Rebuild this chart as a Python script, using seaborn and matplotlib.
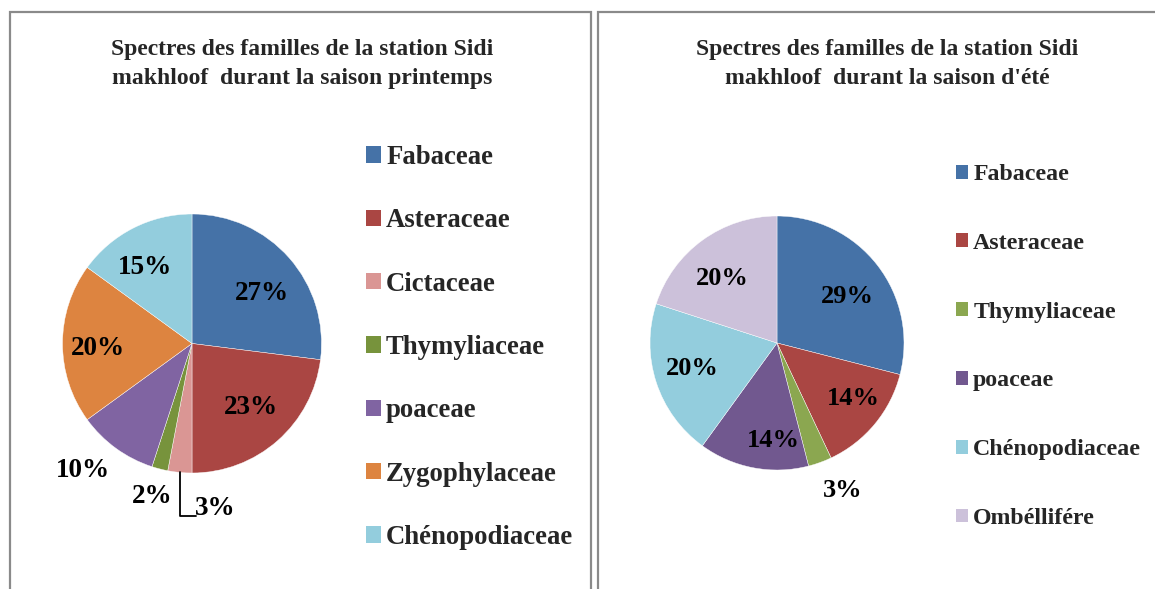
import matplotlib
matplotlib.use("Agg")
import matplotlib.pyplot as plt
import seaborn as sns
import numpy as np
from matplotlib.patches import Rectangle

# ---- data ----
spring_families = ["Fabaceae", "Asteraceae", "Cictaceae", "Thymyliaceae",
                   "poaceae", "Zygophylaceae", "Chénopodiaceae"]
spring_values = [27, 23, 3, 2, 10, 20, 15]
summer_families = ["Fabaceae", "Asteraceae", "Thymyliaceae", "poaceae",
                   "Chénopodiaceae", "Ombéllifére"]
summer_values = [29, 14, 3, 14, 20, 20]
title_spring = "Spectres des familles de la station Sidi\nmakhloof  durant la saison printemps"
title_summer = "Spectres des familles de la station Sidi\nmakhloof  durant la saison d'été"

# ---- style ----
spring_colors = ["#4572A7", "#AA4643", "#DA9694", "#77933C", "#8064A2", "#DD8440", "#93CDDD"]
summer_colors = ["#4572A7", "#AA4643", "#8BA750", "#71588F", "#93CDDD", "#CCC1DA"]
spring_lab_r = [0.66, 0.675, 1.29, 1.22, 1.29, 0.73, 0.69]
spring_lab_da = [-5.8, 1.1, 13.3, -0.2, -4.7, 3.0, 4.6]
summer_lab_r = [0.66, 0.74, 1.27, 0.77, 0.70, 0.67]
summer_lab_da = [-4.5, 3.7, 4.1, 8.5, -1.0, 4.2]

sns.set_theme(style="white")
plt.rcParams['font.family'] = ['Liberation Serif', 'DejaVu Serif']
plt.rcParams['font.weight'] = 'bold'

W, H = 1155, 589
fig = plt.figure(figsize=(W / 100, H / 100), dpi=100)
fig.patch.set_facecolor("white")

def fx(x):
    return x / W

def fy(y):
    return 1 - y / H

# panel borders
for (x0, x1) in [(10, 591), (598, 1175)]:
    fig.patches.append(Rectangle((fx(x0), fy(620)), fx(x1 - x0), (620 - 12) / H,
                                 transform=fig.transFigure, fill=False,
                                 edgecolor="#8a8a8a", linewidth=1.6, zorder=0))


def draw_pie(cx, cy, r, values, labels, colors, lab_r, lab_da, lab_fs,
             title, tcx, leg_x, leg_cy, leg_fs, leg_spacing, leg_hl, leader=None):
    ax = fig.add_axes([fx(cx - r), fy(cy + r), 2 * r / W, 2 * r / H])
    wedges, _ = ax.pie(values, colors=colors, startangle=90, counterclock=False,
                       radius=1, wedgeprops=dict(edgecolor="white", linewidth=0.3))
    ax.set_xlim(-1, 1)
    ax.set_ylim(-1, 1)
    ax.set_aspect("auto")
    ax.axis("off")
    for i, (w, v) in enumerate(zip(wedges, values)):
        mid = (w.theta1 + w.theta2) / 2 + lab_da[i]
        lx = lab_r[i] * np.cos(np.radians(mid))
        ly = lab_r[i] * np.sin(np.radians(mid))
        ax.text(lx, ly, f"{v}%", ha="center", va="center", fontsize=lab_fs,
                fontweight="bold", color="black", clip_on=False)
        if leader is not None and i == leader:
            m0 = np.radians((w.theta1 + w.theta2) / 2)
            sx, sy = np.cos(m0), np.sin(m0)
            ax.plot([sx, sx, lx - 0.15], [sy, ly - 0.055, ly - 0.055],
                    color="black", lw=1.3, clip_on=False)
    fig.text(fx(tcx), fy(64), title, ha="center", va="center", fontsize=17,
             fontweight="bold", linespacing=1.5)
    leg = fig.legend(wedges, labels, loc="center left",
                     bbox_to_anchor=(fx(leg_x), fy(leg_cy)),
                     frameon=False, fontsize=leg_fs, borderpad=0, borderaxespad=0,
                     labelspacing=leg_spacing, handlelength=leg_hl, handleheight=leg_hl,
                     handletextpad=0.2, prop=dict(weight="bold", size=leg_fs))
    for p in leg.get_patches():
        p.set_edgecolor("none")
    return ax


draw_pie(192, 343.5, 129.5, spring_values, spring_families, spring_colors,
         spring_lab_r, spring_lab_da, 19.5, title_spring, 302,
         366, 347.5, 19.3, 1.43, 0.55, leader=2)
draw_pie(777, 343, 127, summer_values, summer_families, summer_colors,
         summer_lab_r, summer_lab_da, 19, title_summer, 887,
         956, 346.5, 17.2, 2.0, 0.52)

fig.savefig("out.png", dpi=100, facecolor="white")
